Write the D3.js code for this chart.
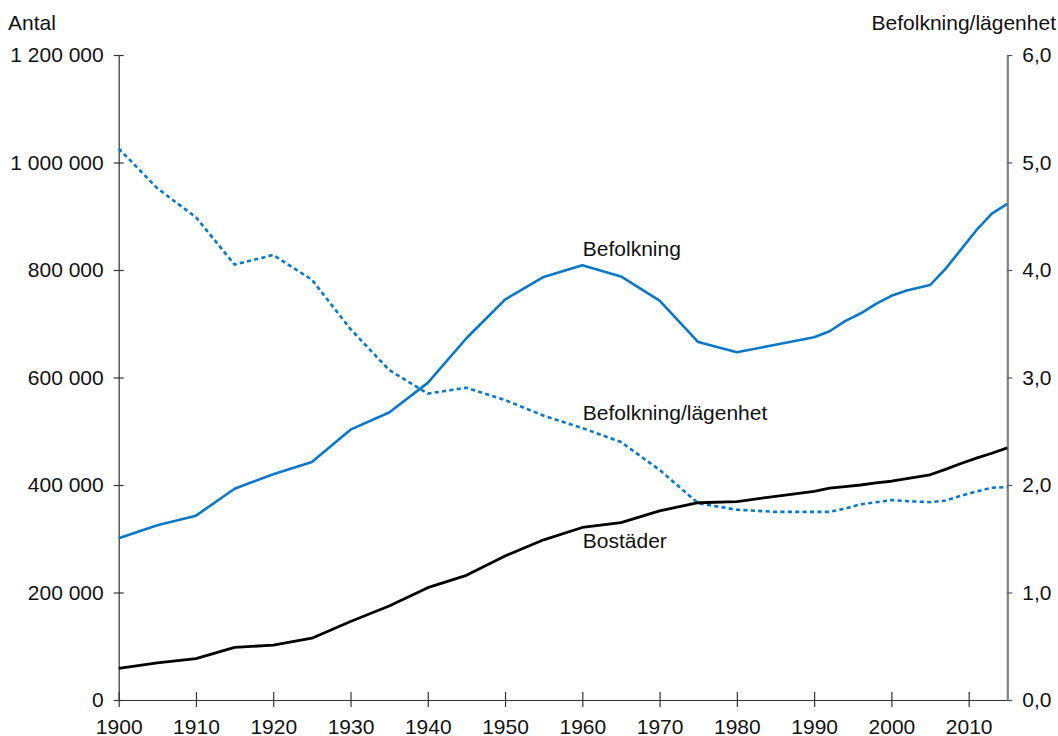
<!DOCTYPE html>
<html>
<head>
<meta charset="utf-8">
<script src="https://cdn.jsdelivr.net/npm/d3@7/dist/d3.min.js"></script>
<style>
  html, body { margin: 0; padding: 0; background: #fff; }
  svg { display: block; font-family: "Liberation Sans", Arial, sans-serif; }
</style>
</head>
<body>
<svg id="chart" width="1058" height="736"></svg>
<script>
// Years sampled for all three series
const years = [1900, 1905, 1910, 1915, 1920, 1925, 1930, 1935, 1940, 1945, 1950, 1955,
  1960, 1965, 1970, 1975, 1980, 1985, 1990, 1992, 1994, 1996, 1998, 2000, 2002,
  2005, 2007, 2009, 2011, 2013, 2015];

// Invånare (vänster axel)
const befolkning = [301000, 325000, 343000, 393000, 420000, 443000, 503000, 535000,
  590000, 673000, 745000, 787000, 809000, 788000, 743000, 666000, 647000, 661000,
  675000, 686000, 705000, 719000, 737000, 752000, 762000, 772000, 802000, 838000,
  874000, 905000, 923000];

// Antal bostäder (vänster axel)
const bostader = [59000, 69000, 77000, 98000, 102000, 115000, 146000, 175000, 209000,
  232000, 268000, 298000, 321000, 330000, 352000, 367000, 369000, 379000, 388000,
  394000, 397000, 400000, 404000, 407000, 412000, 419000, 429000, 440000, 450000,
  459000, 469000];

// Befolkning per lägenhet (höger axel)
const perLagenhet = [5.13, 4.76, 4.49, 4.05, 4.14, 3.91, 3.45, 3.07, 2.85, 2.905, 2.79,
  2.645, 2.53, 2.40, 2.14, 1.83, 1.77, 1.75, 1.75, 1.75, 1.78, 1.82, 1.84, 1.86, 1.85,
  1.84, 1.855, 1.90, 1.94, 1.975, 1.98];

const xTicks = [1900, 1910, 1920, 1930, 1940, 1950, 1960, 1970, 1980, 1990, 2000, 2010];
const leftTicks = [0, 200000, 400000, 600000, 800000, 1000000, 1200000];
const rightTicks = [0, 1, 2, 3, 4, 5, 6];

const leftTitle = "Antal";
const rightTitle = "Befolkning/lägenhet";
const seriesNames = ["Befolkning", "Befolkning/lägenhet", "Bostäder"];

const svg = d3.select("#chart");
const plotLeft = 118.7, plotRight = 1007.3, plotTop = 55, plotBottom = 700;
const fontSize = 21;
const textColor = "#111";
const fontFam = "Liberation Sans, Arial, sans-serif";

const x = d3.scaleLinear().domain([1900, 2015]).range([plotLeft, plotRight]);
const yL = d3.scaleLinear().domain([0, 1200000]).range([plotBottom, plotTop]);
const yR = d3.scaleLinear().domain([0, 6]).range([plotBottom, plotTop]);

const fmtThousands = v => d3.format(",")(v).replace(/,/g, " ");
const fmtComma = v => d3.format(".1f")(v).replace(".", ",");

// Left axis, ticks cross the axis line
const gL = svg.append("g")
  .attr("transform", `translate(${plotLeft},0)`)
  .call(d3.axisLeft(yL).tickValues(leftTicks).tickFormat(fmtThousands)
    .tickSizeInner(5).tickSizeOuter(0).tickPadding(10));
gL.select(".domain").attr("stroke", "#333").attr("stroke-width", 1.2);
gL.selectAll(".tick line").attr("x1", 5).attr("x2", -5).attr("stroke", "#333").attr("stroke-width", 1.2);
gL.selectAll(".tick text").attr("font-size", fontSize).attr("fill", textColor).attr("font-family", fontFam);

// Bottom axis
const gX = svg.append("g")
  .attr("transform", `translate(0,${plotBottom})`)
  .call(d3.axisBottom(x).tickValues(xTicks).tickFormat(d3.format("d"))
    .tickSizeInner(7).tickSizeOuter(0).tickPadding(12));
gX.select(".domain").attr("stroke", "#333").attr("stroke-width", 1.2);
gX.selectAll(".tick line").attr("y1", -8).attr("y2", 7).attr("stroke", "#333").attr("stroke-width", 1.2);
gX.selectAll(".tick text").attr("font-size", fontSize).attr("fill", textColor).attr("font-family", fontFam);

// Right axis
const gR = svg.append("g")
  .attr("transform", `translate(${plotRight},0)`)
  .call(d3.axisRight(yR).tickValues(rightTicks).tickFormat(fmtComma)
    .tickSizeInner(5).tickSizeOuter(0).tickPadding(10));
gR.select(".domain").attr("stroke", "#808080").attr("stroke-width", 2.2);
gR.selectAll(".tick line").attr("stroke", "#555").attr("stroke-width", 1.2);
gR.selectAll(".tick text").attr("font-size", fontSize).attr("fill", textColor).attr("font-family", fontFam);

// Axis titles
svg.append("text").attr("x", 8).attr("y", 30).attr("font-size", fontSize)
  .attr("fill", textColor).text(leftTitle);
svg.append("text").attr("x", 1056).attr("y", 30).attr("font-size", fontSize)
  .attr("text-anchor", "end").attr("fill", textColor).text(rightTitle);

// Lines
const blue = "#0a78c6";
const lineL = arr => d3.line().x((d, i) => x(years[i])).y(d => yL(d))(arr);
const lineR = arr => d3.line().x((d, i) => x(years[i])).y(d => yR(d))(arr);

svg.append("path").attr("d", lineR(perLagenhet)).attr("fill", "none")
  .attr("stroke", blue).attr("stroke-width", 2.6).attr("stroke-dasharray", "4.2,3.2");
svg.append("path").attr("d", lineL(bostader)).attr("fill", "none")
  .attr("stroke", "#000").attr("stroke-width", 2.8).attr("stroke-linejoin", "round");
svg.append("path").attr("d", lineL(befolkning)).attr("fill", "none")
  .attr("stroke", blue).attr("stroke-width", 2.6).attr("stroke-linejoin", "round");

// Series labels placed beside the 1960 point of each line
const labelYear = 1960;
const iLab = years.indexOf(labelYear);
const labelPos = [
  { text: seriesNames[0], y: yL(befolkning[iLab]) - 9 },
  { text: seriesNames[1], y: yR(perLagenhet[iLab]) - 7.8 },
  { text: seriesNames[2], y: yL(bostader[iLab]) + 21 }
];
svg.selectAll(".series-label").data(labelPos).join("text")
  .attr("class", "series-label")
  .attr("x", x(labelYear) + 0.5)
  .attr("y", d => d.y)
  .attr("font-size", fontSize).attr("fill", textColor)
  .text(d => d.text);
</script>
</body>
</html>
